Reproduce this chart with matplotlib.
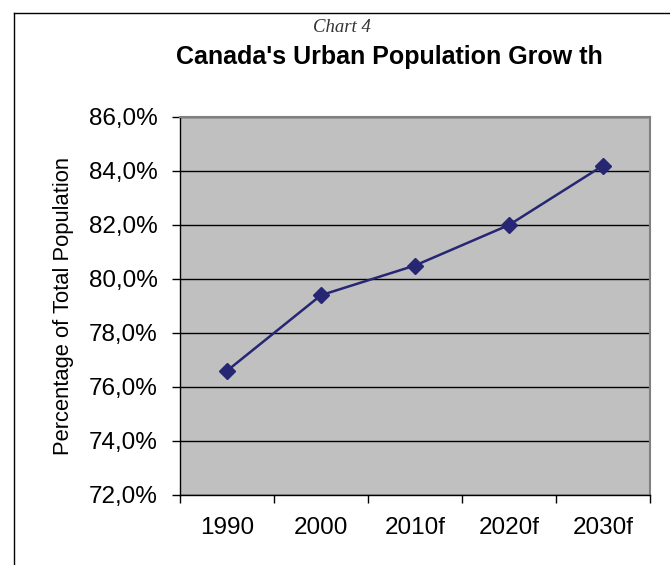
import matplotlib.pyplot as plt
from matplotlib.lines import Line2D

# Data
years = ['1990', '2000', '2010f', '2020f', '2030f']
urban_share = [76.6, 79.4, 80.5, 82.0, 84.2]
y_ticks = [72, 74, 76, 78, 80, 82, 84, 86]

fig = plt.figure(figsize=(6.7, 5.65), dpi=100)
ax = fig.add_axes([180 / 670, 1 - 495 / 565, 470 / 670, 378 / 565])
ax.set_facecolor('#c0c0c0')

x = [i + 0.5 for i in range(len(years))]
ax.plot(x, urban_share, color='#262673', lw=1.8, marker='D', markersize=8,
        markerfacecolor='#262673', markeredgecolor='#262673', zorder=3)

ax.set_xlim(0, len(years))
ax.set_ylim(72, 86)
ax.set_yticks(y_ticks)
ax.set_yticklabels([f'{v:.1f}%'.replace('.', ',') for v in y_ticks],
                   family='Liberation Sans', fontsize=17.5)
ax.set_xticks(range(len(years) + 1))
ax.set_xticklabels([])
ax.set_xticks(x, minor=True)
ax.set_xticklabels(years, minor=True, family='Liberation Sans', fontsize=17.5)
ax.tick_params(axis='x', which='minor', length=0, pad=16)
ax.tick_params(axis='x', which='major', length=6, direction='out', width=1)
ax.tick_params(axis='y', length=6, direction='out', width=1, pad=10)

ax.yaxis.grid(True, color='black', lw=1)
ax.set_axisbelow(True)
for s in ['top', 'right']:
    ax.spines[s].set_color('#808080')
    ax.spines[s].set_linewidth(1.5)
for s in ['left', 'bottom']:
    ax.spines[s].set_color('black')
    ax.spines[s].set_linewidth(1)

ax.set_ylabel('Percentage of Total Population', family='Liberation Sans',
              fontsize=15.8, labelpad=11)

fig.text(342 / 670, 1 - 27 / 565, 'Chart 4', family='Liberation Serif',
         style='italic', fontsize=13.5, color='#333333', ha='center', va='center')
fig.text(389 / 670, 1 - 57 / 565, "Canada's Urban Population Grow th",
         family='Liberation Sans', weight='bold', fontsize=18,
         ha='center', va='center')

# frame around the chart
fig.add_artist(Line2D([14 / 670, 14 / 670], [0, 1 - 13 / 565], color='black', lw=1))
fig.add_artist(Line2D([14 / 670, 1], [1 - 13 / 565, 1 - 13 / 565], color='black', lw=1))

fig.savefig('out.png', dpi=100)
